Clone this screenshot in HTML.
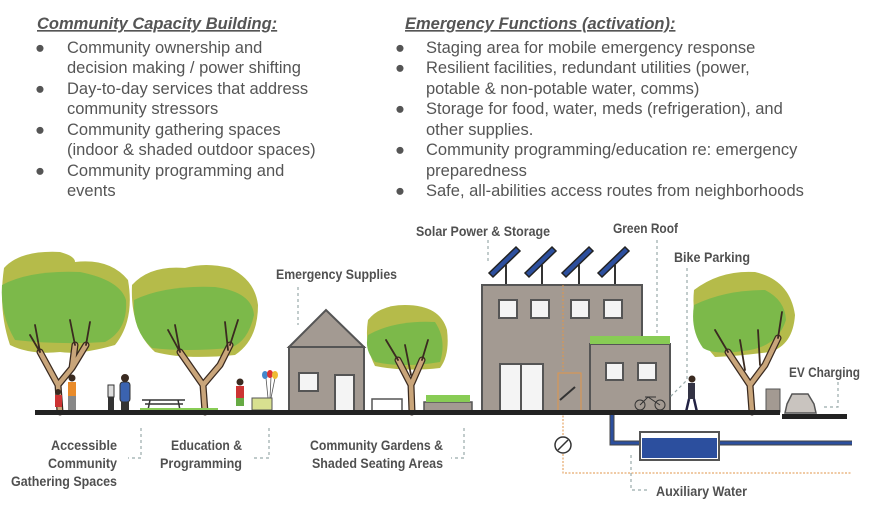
<!DOCTYPE html>
<html><head><meta charset="utf-8"><style>
html,body{margin:0;padding:0;background:#fff;}
svg{display:block}
.t{font-family:"Liberation Sans",Arial,sans-serif;font-size:16.5px;fill:#555}
.h{font-family:"Liberation Sans",Arial,sans-serif;font-size:16.5px;fill:#555;font-weight:bold;font-style:italic;text-decoration:underline}
.l{font-family:"Liberation Sans",sans-serif;font-weight:bold;font-size:14px;fill:#505050}
.d{stroke:#9aa;stroke-width:1.2;stroke-dasharray:3 3;fill:none}
</style></head><body>
<svg width="870" height="506" viewBox="0 0 870 506" xmlns="http://www.w3.org/2000/svg">
<text class="h" x="37" y="29">Community Capacity Building:</text>
<g class="t">
<text x="35" y="53">●</text><text x="67" y="53">Community ownership and</text>
<text x="67" y="73">decision making / power shifting</text>
<text x="35" y="94">●</text><text x="67" y="94">Day-to-day services that address</text>
<text x="67" y="114">community stressors</text>
<text x="35" y="135">●</text><text x="67" y="135">Community gathering spaces</text>
<text x="67" y="155">(indoor &amp; shaded outdoor spaces)</text>
<text x="35" y="176">●</text><text x="67" y="176">Community programming and</text>
<text x="67" y="196">events</text>
</g>
<text class="h" x="405" y="29">Emergency Functions (activation):</text>
<g class="t">
<text x="395" y="53">●</text><text x="426" y="53">Staging area for mobile emergency response</text>
<text x="395" y="73">●</text><text x="426" y="73">Resilient facilities, redundant utilities (power,</text>
<text x="426" y="94">potable &amp; non-potable water, comms)</text>
<text x="395" y="114">●</text><text x="426" y="114">Storage for food, water, meds (refrigeration), and</text>
<text x="426" y="135">other supplies.</text>
<text x="395" y="155">●</text><text x="426" y="155">Community programming/education re: emergency</text>
<text x="426" y="176">preparedness</text>
<text x="395" y="196">●</text><text x="426" y="196">Safe, all-abilities access routes from neighborhoods</text>
</g>

<!-- canopies -->
<g>
<path d="M4,268 Q20,250 60,252 Q75,256 75,262 Q110,258 128,280 Q135,320 115,345 Q80,355 60,352 Q30,355 10,345 Q-2,310 4,268Z" fill="#b5bb4a"/>
<path d="M2,285 Q30,270 80,272 Q120,280 126,300 Q128,330 105,342 Q60,345 15,340 Q0,315 2,285Z" fill="#7cb94a"/>
<path d="M132,285 Q150,265 185,268 Q205,262 230,268 Q255,280 258,305 Q258,340 235,355 Q185,360 155,352 Q130,330 132,285Z" fill="#b5bb4a"/>
<path d="M134,300 Q165,285 215,287 Q252,292 254,315 Q248,342 230,348 Q185,352 152,348 Q132,330 134,300Z" fill="#7cb94a"/>
<path d="M368,320 Q380,305 405,305 Q440,305 447,330 Q450,355 440,368 Q405,372 375,366 Q364,345 368,320Z" fill="#b5bb4a"/>
<path d="M368,335 Q395,320 435,322 Q447,340 440,362 Q405,368 375,362 Q364,350 368,335Z" fill="#7cb94a"/>
<path d="M694,290 Q720,270 755,272 Q790,280 795,315 Q793,345 770,352 Q740,356 715,357 Q690,330 694,290Z" fill="#b5bb4a"/>
<path d="M694,305 Q725,290 765,290 Q785,300 786,320 Q778,345 750,350 Q715,356 703,348 Q690,330 694,305Z" fill="#7cb94a"/>
</g>
<!-- trunks -->
<g fill="none" stroke-linecap="round" stroke-linejoin="round">
<g stroke="#3a2a20" stroke-width="7">
<path d="M60,412 L58,385 L40,352 M58,385 L72,368 L75,345 M72,368 L86,345"/>
<path d="M205,412 L203,385 L180,352 M203,385 L220,365 L230,345"/>
<path d="M412,412 L411,385 L398,360 M411,385 L422,360"/>
<path d="M752,412 L750,385 L728,352 M750,385 L765,365 L778,338"/>
</g>
<g stroke="#c9a57a" stroke-width="4.5">
<path d="M60,412 L58,385 L40,352 M58,385 L72,368 L75,345 M72,368 L86,345"/>
<path d="M205,412 L203,385 L180,352 M203,385 L220,365 L230,345"/>
<path d="M412,412 L411,385 L398,360 M411,385 L422,360"/>
<path d="M752,412 L750,385 L728,352 M750,385 L765,365 L778,338"/>
</g>
<g stroke="#3a2a20" stroke-width="1.8">
<path d="M40,352 L30,335 M40,352 L35,325 M75,345 L70,320 M86,345 L90,322 M180,352 L168,330 M180,352 L175,325 M230,345 L238,320 M228,350 L225,322 M398,360 L386,340 M422,360 L428,340 M411,375 L405,345 M728,352 L715,330 M778,338 L782,312 M760,365 L758,330 M745,370 L740,340"/>
</g>
</g>

<!-- people -->
<g>
<rect x="55" y="395" width="7" height="12" fill="#c33"/><circle cx="58" cy="392" r="3" fill="#3a2a20"/>
<rect x="68" y="382" width="8" height="14" fill="#e98b2a"/><rect x="68" y="396" width="8" height="16" fill="#888"/><circle cx="72" cy="378" r="3.5" fill="#3a2a20"/>
<rect x="108" y="385" width="6" height="12" fill="#ddd" stroke="#333"/><rect x="108" y="397" width="6" height="15" fill="#333"/>
<rect x="120" y="382" width="10" height="20" rx="3" fill="#3b63b0" stroke="#333"/><circle cx="125" cy="378" r="4" fill="#3a2a20"/><rect x="121" y="402" width="8" height="10" fill="#333"/>
<rect x="236" y="386" width="8" height="12" fill="#c33"/><rect x="236" y="398" width="8" height="8" fill="#6a4"/><circle cx="240" cy="382" r="3.5" fill="#3a2a20"/>
<rect x="252" y="398" width="20" height="12" fill="#d8e090" stroke="#555"/>
<path d="M266,378 L268,398 M271,377 L270,398 M275,378 L271,398" stroke="#555" stroke-width="0.8"/>
<ellipse cx="265" cy="375" rx="3" ry="4" fill="#48c"/><ellipse cx="270" cy="374" rx="3" ry="4" fill="#d33"/><ellipse cx="275" cy="375" rx="3" ry="4" fill="#eb3"/>
<rect x="688" y="383" width="7" height="16" fill="#334"/><circle cx="692" cy="379" r="3.5" fill="#3a2a20"/><path d="M689,399 L686,412 M694,399 L697,412" stroke="#224" stroke-width="2.5"/>
</g>
<!-- picnic table, grass -->
<path d="M142,400 L185,400 M150,400 L148,410 M178,400 L180,410 M145,404 L183,404" stroke="#333" stroke-width="1.5"/>
<rect x="140" y="408" width="78" height="4" fill="#8c5"/>
<!-- bench & planter -->
<rect x="372" y="399" width="30" height="12" fill="#fff" stroke="#555" stroke-width="1.5"/>
<rect x="424" y="402" width="48" height="10" fill="#a39a92" stroke="#555" stroke-width="1.5"/>
<rect x="426" y="395" width="44" height="7" fill="#8c5"/>

<!-- house -->
<rect x="289" y="347" width="75" height="65" fill="#a39a92" stroke="#555" stroke-width="2"/>
<path d="M289,347 L326,310 L364,347Z" fill="#a39a92" stroke="#555" stroke-width="2"/>
<rect x="299" y="373" width="19" height="18" fill="#f4f4f4" stroke="#555" stroke-width="2"/>
<rect x="335" y="375" width="19" height="37" fill="#f4f4f4" stroke="#555" stroke-width="2"/>

<!-- solar -->
<g stroke="#333" stroke-width="2">
<path d="M506,265 L506,285 M542,265 L542,285 M579,265 L579,285 M615,265 L615,285"/>
</g>
<g fill="#2c4f9e" stroke="#222" stroke-width="1.5">
<path d="M489,273 L516,247 L520,251 L493,277Z"/>
<path d="M525,273 L552,247 L556,251 L529,277Z"/>
<path d="M562,273 L589,247 L593,251 L566,277Z"/>
<path d="M598,273 L625,247 L629,251 L602,277Z"/>
</g>
<!-- building -->
<rect x="482" y="285" width="160" height="127" fill="#a39a92" stroke="#555" stroke-width="2"/>
<rect x="590" y="344" width="80" height="68" fill="#a39a92" stroke="#555" stroke-width="2"/>
<rect x="590" y="336" width="80" height="8" fill="#8c5"/>
<g fill="#f4f4f4" stroke="#555" stroke-width="2">
<rect x="499" y="300" width="18" height="18"/><rect x="531" y="300" width="18" height="18"/>
<rect x="571" y="300" width="18" height="18"/><rect x="604" y="300" width="18" height="18"/>
<rect x="500" y="364" width="43" height="48"/><path d="M521,364 L521,412"/>
<rect x="606" y="363" width="17" height="17"/><rect x="638" y="363" width="18" height="17"/>
</g>
<rect x="558" y="373" width="23" height="38" fill="none" stroke="#e0954a" stroke-width="1"/>
<path d="M563,285 L563,373 M563,412 L563,473 L852,473" stroke="#e0954a" stroke-width="1" stroke-dasharray="2 1.5" fill="none"/>
<path d="M560,400 L575,387" stroke="#333" stroke-width="2"/>
<circle cx="563" cy="445" r="8" fill="#fff" stroke="#333" stroke-width="1.5"/><path d="M558,450 L568,440" stroke="#333" stroke-width="1.5"/>
<!-- bike -->
<circle cx="640" cy="405" r="5" fill="none" stroke="#333"/><circle cx="660" cy="405" r="5" fill="none" stroke="#333"/><path d="M640,405 L648,397 L660,405 M645,397 L656,397" stroke="#333" fill="none"/>
<!-- EV -->
<rect x="766" y="389" width="14" height="23" fill="#a39a92" stroke="#555"/>
<path d="M787,404 L792,394 L808,394 L814,404 L816,413 L785,413Z" fill="#c9c4bf" stroke="#555" stroke-width="1.5"/>
<!-- ground -->
<rect x="35" y="410" width="745" height="5" fill="#222"/>
<rect x="782" y="414" width="65" height="5" fill="#222"/>
<!-- water -->
<path d="M612,415 L612,443 L640,443 M719,443 L852,443" stroke="#444" stroke-width="5" fill="none"/>
<path d="M612,415 L612,443 L640,443 M719,443 L852,443" stroke="#2c4f9e" stroke-width="3" fill="none"/>
<rect x="640" y="432" width="79" height="28" fill="#fff" stroke="#555" stroke-width="2"/>
<rect x="642" y="438" width="75" height="20" fill="#2c4f9e"/>

<!-- dashed leaders -->
<path class="d" d="M298,287 L298,325 M141,428 L141,458 L128,458 M269,428 L269,458 L254,458 M464,428 L464,458 L451,458 M488,240 L488,262 M657,240 L657,336 M687,268 L687,380 L670,397 M838,382 L838,407 L822,407 M631,455 L631,490 L650,490"/>

<!-- labels -->
<g class="l" lengthAdjust="spacingAndGlyphs">
<text x="276" y="279" textLength="121" lengthAdjust="spacingAndGlyphs">Emergency Supplies</text>
<text x="416" y="236" textLength="134" lengthAdjust="spacingAndGlyphs">Solar Power &amp; Storage</text>
<text x="613" y="233" textLength="65" lengthAdjust="spacingAndGlyphs">Green Roof</text>
<text x="674" y="262" textLength="76" lengthAdjust="spacingAndGlyphs">Bike Parking</text>
<text x="789" y="377" textLength="71" lengthAdjust="spacingAndGlyphs">EV Charging</text>
<text x="656" y="496" textLength="91" lengthAdjust="spacingAndGlyphs">Auxiliary Water</text>
<text x="51" y="450" textLength="66" lengthAdjust="spacingAndGlyphs">Accessible</text>
<text x="48" y="468" textLength="69" lengthAdjust="spacingAndGlyphs">Community</text>
<text x="11" y="486" textLength="106" lengthAdjust="spacingAndGlyphs">Gathering Spaces</text>
<text x="171" y="450" textLength="71" lengthAdjust="spacingAndGlyphs">Education &amp;</text>
<text x="160" y="468" textLength="82" lengthAdjust="spacingAndGlyphs">Programming</text>
<text x="310" y="450" textLength="133" lengthAdjust="spacingAndGlyphs">Community Gardens &amp;</text>
<text x="312" y="468" textLength="131" lengthAdjust="spacingAndGlyphs">Shaded Seating Areas</text>
</g>
</svg>
</body></html>
